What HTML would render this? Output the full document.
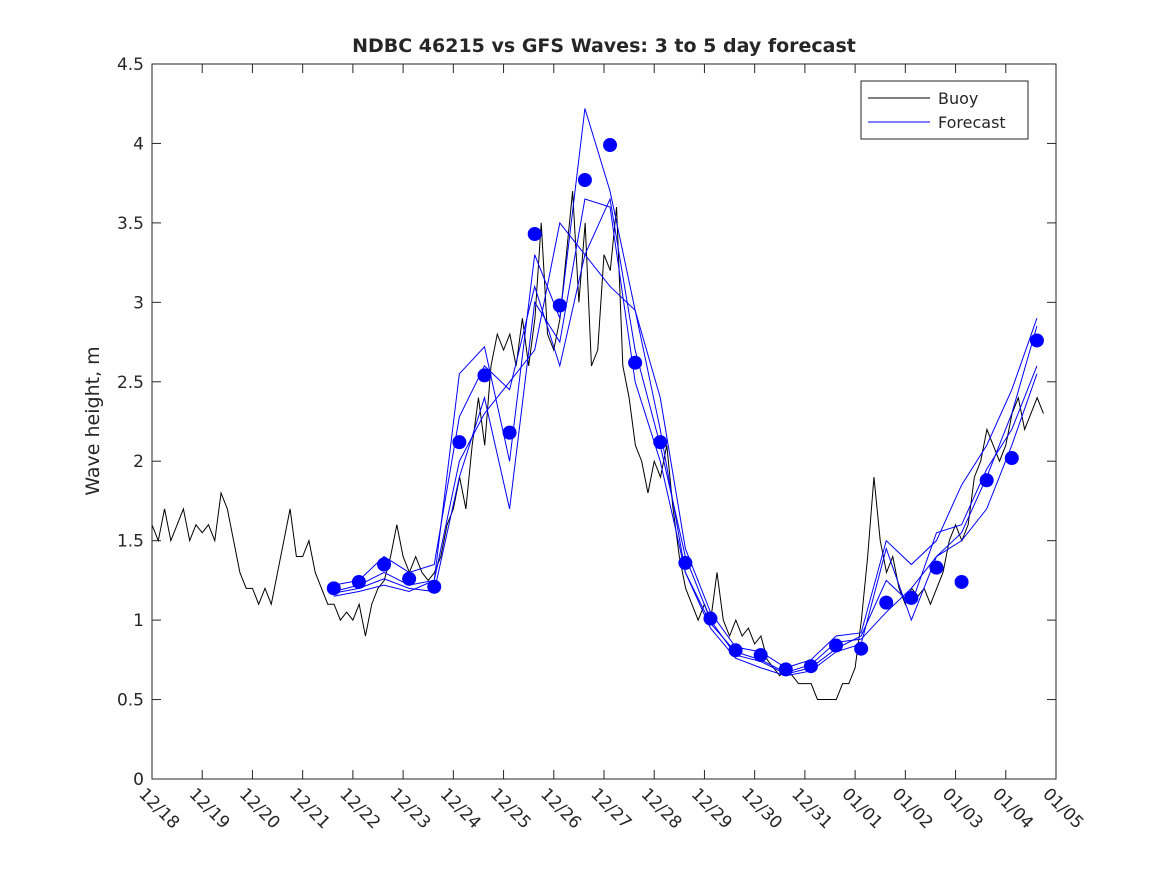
<!DOCTYPE html>
<html><head><meta charset="utf-8"><style>
body{margin:0;background:#fff;}
svg text{font-family:"DejaVu Sans","Liberation Sans",sans-serif;fill:#262626;}
</style></head><body>
<svg id="chart" width="1167" height="875" xmlns="http://www.w3.org/2000/svg">
<rect width="1167" height="875" fill="#fff"/>
<text x="604" y="52" text-anchor="middle" font-size="19" font-weight="bold" fill="#000">NDBC 46215 vs GFS Waves: 3 to 5 day forecast</text>
<text transform="translate(99,421) rotate(-90)" text-anchor="middle" font-size="19">Wave height, m</text>
<g id="grid"></g>
<g id="series"></g>
<rect x="152" y="64" width="904" height="715" fill="none" stroke="#262626" stroke-width="1"/>
<g>
<rect x="861" y="81" width="167" height="58" fill="#fff" stroke="#262626"/>
<line x1="868" y1="98" x2="930" y2="98" stroke="#000"/>
<text x="938" y="104" font-size="16">Buoy</text>
<line x1="868" y1="122" x2="930" y2="122" stroke="#00f"/>
<text x="938" y="128" font-size="16">Forecast</text>
</g>
</svg>
<script>
const xTickLabels=["12/18","12/19","12/20","12/21","12/22","12/23","12/24","12/25","12/26","12/27","12/28","12/29","12/30","12/31","01/01","01/02","01/03","01/04","01/05"];
const yTicks=[0,0.5,1,1.5,2,2.5,3,3.5,4,4.5];
const buoyStep=0.125;
const buoy=[
1.6,1.5,1.7,1.5,1.6,1.7,1.5,1.6,
1.55,1.6,1.5,1.8,1.7,1.5,1.3,1.2,
1.2,1.1,1.2,1.1,1.3,1.5,1.7,1.4,
1.4,1.5,1.3,1.2,1.1,1.1,1.0,1.05,
1.0,1.1,0.9,1.1,1.2,1.25,1.4,1.6,
1.4,1.3,1.4,1.3,1.25,1.3,1.4,1.6,
1.7,1.9,1.7,2.1,2.4,2.1,2.6,2.8,
2.7,2.8,2.6,2.9,2.6,2.9,3.5,2.8,
2.7,2.9,3.3,3.7,3.0,3.5,2.6,2.7,
3.3,3.2,3.6,2.6,2.4,2.1,2.0,1.8,
2.0,1.9,2.1,1.7,1.4,1.2,1.1,1.0,
1.1,1.0,1.3,1.0,0.9,1.0,0.9,0.95,
0.85,0.9,0.75,0.7,0.65,0.7,0.65,0.6,
0.6,0.6,0.5,0.5,0.5,0.5,0.6,0.6,
0.7,1.0,1.4,1.9,1.5,1.3,1.4,1.2,
1.1,1.2,1.15,1.2,1.1,1.2,1.3,1.5,
1.6,1.5,1.6,1.9,2.0,2.2,2.1,2.0,
2.1,2.3,2.4,2.2,2.3,2.4,2.3];
const dotStart=3.62, dotStep=0.5;
const dots=[1.20,1.24,1.35,1.26,1.21,2.12,2.54,2.18,3.43,2.98,3.77,3.99,2.62,2.12,1.36,1.01,0.81,0.78,0.69,0.71,0.84,0.82,1.11,1.14,1.33,1.24,1.88,2.02,2.76];
const fcA=[1.18,1.22,1.30,1.22,1.25,2.55,2.72,2.0,3.3,2.9,4.22,3.7,2.95,2.2,1.3,0.95,0.76,0.70,0.65,0.68,0.80,0.85,1.45,1.0,1.4,1.55,1.9,2.3,2.85];
const fcB=[1.17,1.20,1.26,1.20,1.18,1.9,2.4,1.7,3.0,2.75,3.65,3.6,2.5,2.0,1.3,0.98,0.80,0.75,0.67,0.72,0.86,0.88,1.05,1.2,1.4,1.5,1.7,2.1,2.55];
const fcC=[1.22,1.25,1.40,1.30,1.35,2.28,2.6,2.45,3.1,2.6,3.3,3.1,2.95,2.4,1.45,1.05,0.83,0.80,0.70,0.75,0.90,0.92,1.5,1.35,1.5,1.85,2.1,2.45,2.9];
const fcD=[1.15,1.18,1.22,1.18,1.25,2.0,2.3,2.5,2.7,3.5,3.3,3.65,2.7,2.1,1.4,1.0,0.78,0.74,0.66,0.70,0.82,0.90,1.25,1.1,1.55,1.6,1.95,2.2,2.6];
const forecasts=[fcA,fcB,fcC,fcD];
const NS="http://www.w3.org/2000/svg";
const X0=152,X1=1056,Y0=779,Y1=64;
const xs=d=>X0+(X1-X0)*d/18;
const ys=v=>Y0-(Y0-Y1)*v/4.5;
const grid=document.getElementById('grid'),ser=document.getElementById('series');
function mk(t,a,p){const e=document.createElementNS(NS,t);for(const k in a)e.setAttribute(k,a[k]);p.appendChild(e);return e;}
yTicks.forEach(v=>{
  const l=mk('line',{x1:X0,x2:X0+9,y1:ys(v),y2:ys(v),stroke:'#262626'},grid);
  
  
  const r=mk('line',{x1:X1-9,x2:X1,y1:ys(v),y2:ys(v),stroke:'#262626'},grid);
  
  
  const t=mk('text',{x:X0-8,y:ys(v)+6,'text-anchor':'end','font-size':17},grid);t.textContent=String(v);
  
  
});
xTickLabels.forEach((s,i)=>{
  const x=xs(i);
  const l=mk('line',{x1:x,x2:x,y1:Y0,y2:Y0-9,stroke:'#262626'},grid);
  
  
  const u=mk('line',{x1:x,x2:x,y1:Y1,y2:Y1+9,stroke:'#262626'},grid);
  
  
  const t=mk('text',{x:0,y:0,'font-size':17,transform:`translate(${x-14},${Y0+16}) rotate(45)`},grid);t.textContent=s;
  
  
});
const bp=mk('polyline',{points:buoy.map((v,i)=>xs(i*buoyStep)+','+ys(v)).join(' '),fill:'none',stroke:'#000','stroke-width':1},ser);


forecasts.forEach(f=>{
  const p=mk('polyline',{points:f.map((v,i)=>xs(dotStart+i*dotStep)+','+ys(v)).join(' '),fill:'none',stroke:'#00f','stroke-width':1},ser);
  
  
});
dots.forEach((v,i)=>{
  const c=mk('circle',{cx:xs(dotStart+i*dotStep),cy:ys(v),r:7,fill:'#00f'},ser);
  
  
});
</script>
</body></html>
